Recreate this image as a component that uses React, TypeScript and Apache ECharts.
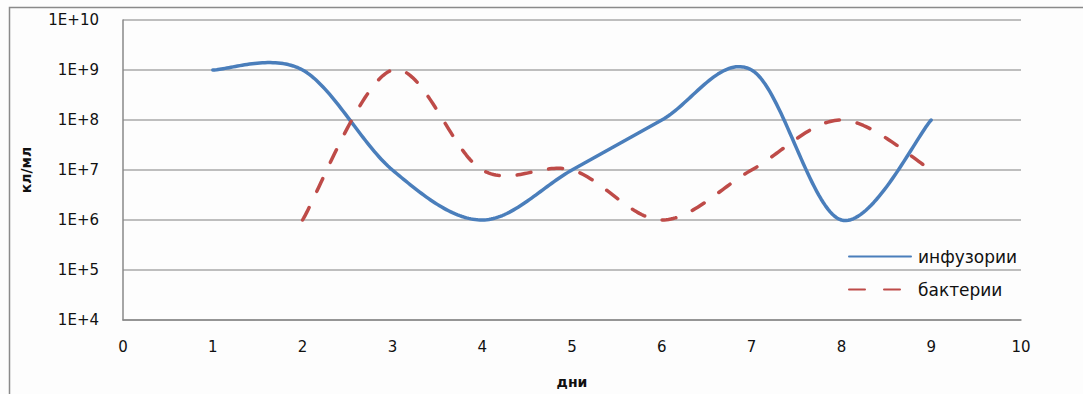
import React, { useEffect, useRef } from "react";
import * as echarts from "echarts";

const days = [1, 2, 3, 4, 5, 6, 7, 8, 9];
const infusoria = [1e9, 1e9, 1e7, 1e6, 1e7, 1e8, 1e9, 1e6, 1e8];
const bacteriaDays = [2, 3, 4, 5, 6, 7, 8, 9];
const bacteria = [1e6, 1e9, 1e7, 1e7, 1e6, 1e7, 1e8, 1e7];
const seriesNames = ["инфузории", "бактерии"];
const colors = ["#4a7ebb", "#be4b48"];

const FONT = "DejaVu Sans";
const DASH = [14, 18];

// Excel-like smoothing (Catmull-Rom, tension 1/6) sampled in pixel space
function smoothPoints(pts: number[][]): number[][] {
  const out: number[][] = [];
  const n = pts.length;
  for (let i = 0; i < n - 1; i++) {
    const p0 = pts[i];
    const p1 = pts[i + 1];
    const pp = pts[i - 1] || p0;
    const pn = pts[i + 2] || p1;
    const c1 = [p0[0] + (p1[0] - pp[0]) / 6, p0[1] + (p1[1] - pp[1]) / 6];
    const c2 = [p1[0] - (pn[0] - p0[0]) / 6, p1[1] - (pn[1] - p0[1]) / 6];
    const steps = 40;
    for (let s = i === 0 ? 0 : 1; s <= steps; s++) {
      const t = s / steps;
      const u = 1 - t;
      const x = u * u * u * p0[0] + 3 * u * u * t * c1[0] + 3 * u * t * t * c2[0] + t * t * t * p1[0];
      const y = u * u * u * p0[1] + 3 * u * u * t * c1[1] + 3 * u * t * t * c2[1] + t * t * t * p1[1];
      out.push([x, y]);
    }
  }
  return out;
}

function curveSeries(name: string, xs: number[], ys: number[], color: string, dash: number[] | null) {
  return {
    name,
    type: "custom",
    data: xs.map((d, i) => [d, ys[i]]),
    encode: { x: 0, y: 1 },
    silent: true,
    z: 3,
    renderItem: (params: any, api: any) => {
      if (params.dataIndex !== 0) return null;
      const pts = xs.map((d, i) => api.coord([d, ys[i]]));
      return {
        type: "polyline",
        shape: { points: smoothPoints(pts) },
        style: {
          fill: "none",
          stroke: color,
          lineWidth: 3.5,
          lineCap: "round",
          lineJoin: "round",
          lineDash: dash || undefined,
        },
      };
    },
  };
}

export default function App() {
  const ref = useRef<HTMLDivElement>(null);
  useEffect(() => {
    document.body.style.margin = "0";
    const chart = echarts.init(ref.current!, null, { renderer: "svg" });
    const legendCommon = {
      left: 843,
      itemWidth: 62,
      itemHeight: 14,
      itemGap: 0,
      itemStyle: { opacity: 0 },
      textStyle: { fontSize: 17, lineHeight: 14, color: "#111", fontFamily: FONT, padding: [0, 0, 0, 2] },
    };
    chart.setOption({
      animation: false,
      backgroundColor: "#fdfdfd",
      textStyle: { fontFamily: FONT },
      graphic: [
        {
          type: "rect",
          shape: { x: 9.5, y: 7.5, width: 1100, height: 420 },
          style: { fill: "none", stroke: "#8a8a8a", lineWidth: 1.5 },
          silent: true,
        },
      ],
      grid: { left: 123, right: 62, top: 20, bottom: 74 },
      legend: [
        { ...legendCommon, data: [seriesNames[0]], top: 243 },
        { ...legendCommon, data: [seriesNames[1]], top: 276, lineStyle: { type: [16, 19], cap: "round" } },
      ],
      xAxis: {
        type: "value",
        min: 0,
        max: 10,
        interval: 1,
        name: "дни",
        nameLocation: "middle",
        nameGap: 55,
        nameTextStyle: { fontSize: 14, fontWeight: "bold", color: "#111", fontFamily: FONT },
        axisLine: { lineStyle: { color: "#888", width: 1.5 } },
        axisTick: { show: false },
        splitLine: { show: false },
        axisLabel: { fontSize: 15, color: "#111", margin: 19, fontFamily: FONT },
      },
      yAxis: {
        type: "log",
        logBase: 10,
        min: 1e4,
        max: 1e10,
        name: "кл/мл",
        nameLocation: "middle",
        nameGap: 90,
        nameTextStyle: { fontSize: 14, fontWeight: "bold", color: "#111", fontFamily: FONT },
        axisLine: { show: true, lineStyle: { color: "#888", width: 1.5 } },
        axisTick: { show: false },
        splitLine: { show: true, lineStyle: { color: "#a8a8a8", width: 1.5 } },
        axisLabel: {
          fontSize: 15,
          color: "#111",
          margin: 24,
          fontFamily: FONT,
          formatter: (v: number) => "1E+" + Math.round(Math.log10(v)),
        },
      },
      series: [
        {
          name: seriesNames[0],
          type: "line",
          data: [],
          symbol: "none",
          color: colors[0],
          lineStyle: { color: colors[0], width: 3.5, cap: "round" },
        },
        {
          name: seriesNames[1],
          type: "line",
          data: [],
          symbol: "none",
          color: colors[1],
          lineStyle: { color: colors[1], width: 3.5, type: DASH, cap: "round" },
        },
        curveSeries("infusoriaCurve", days, infusoria, colors[0], null),
        curveSeries("bacteriaCurve", bacteriaDays, bacteria, colors[1], DASH),
      ],
    });
    return () => chart.dispose();
  }, []);
  return <div ref={ref} style={{ width: 1083, height: 394 }} />;
}
